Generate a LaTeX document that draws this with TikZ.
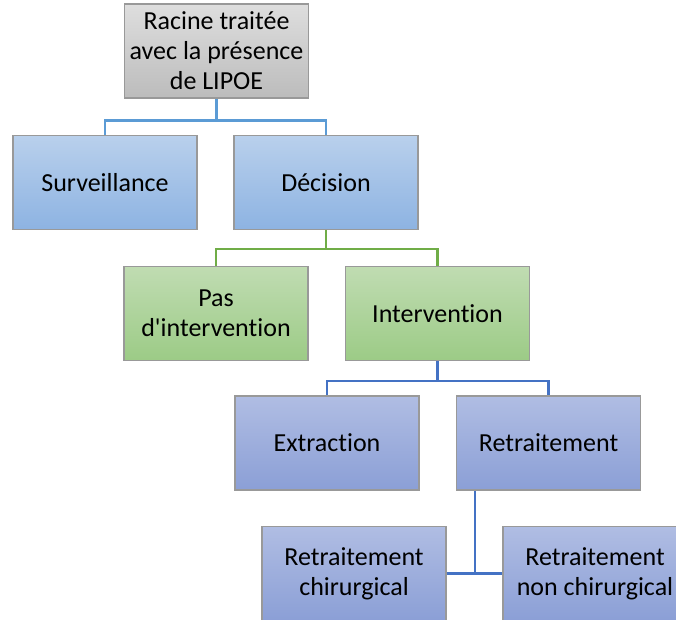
\documentclass[tikz,border=0pt]{standalone}
\usepackage{fontspec}
\setmainfont{Carlito}[Ligatures={TeXOff,CommonOff}]
\usepackage{tikz}

\definecolor{lineblue}{HTML}{5B9BD5}
\definecolor{linegreen}{HTML}{70AD47}
\definecolor{linedark}{HTML}{4472C4}

\tikzset{
  box/.style={draw=black!40,line width=1.2pt,minimum width=184pt,minimum height=94pt,
    align=center,inner sep=2pt,font=\fontsize{26}{30}\selectfont},
  graybox/.style={box,top color={rgb,255:red,222;green,222;blue,222},bottom color={rgb,255:red,188;green,188;blue,188}},
  bluebox/.style={box,top color={rgb,255:red,185;green,208;blue,236},bottom color={rgb,255:red,141;green,179;blue,226}},
  greenbox/.style={box,top color={rgb,255:red,192;green,220;blue,178},bottom color={rgb,255:red,156;green,203;blue,134}},
  purplebox/.style={box,top color={rgb,255:red,176;green,189;blue,227},bottom color={rgb,255:red,139;green,159;blue,214}},
  link/.style={line width=2.6pt}
}

\begin{document}
\begin{tikzpicture}[x=1pt,y=-1pt]
        \clip (0,0) rectangle (676,619);
        \fill[white] (0,0) rectangle (676,619);
        \node[graybox] (root) at (216.5,51) {Racine traitée\\avec la présence\\de LIPOE};
        \node[bluebox] (surv) at (105,182.5) {Surveillance};
        \node[bluebox] (dec) at (326,182.5) {Décision};
        \node[greenbox] (pas) at (216,313.5) {Pas\\d'intervention};
        \node[greenbox] (interv) at (437.5,313.5) {Intervention};
        \node[purplebox] (extr) at (327,443) {Extraction};
        \node[purplebox] (retr) at (548.5,443) {Retraitement};
        \node[purplebox] (chir) at (354,573.5) {Retraitement\\chirurgical};
        \node[purplebox] (nonchir) at (595,573.5) {Retraitement\\non chirurgical};
        \coordinate (bus) at (475,573.5);
        \draw[link,lineblue] (root.south) -- ++(0,22) -| (surv.north) (root.south) ++(0,22) -| (dec.north);
        \draw[link,linegreen] (dec.south) -- ++(0,19) -| (pas.north) (dec.south) ++(0,19) -| (interv.north);
        \draw[link,linedark] (interv.south) -- ++(0,20) -| (extr.north) (interv.south) ++(0,20) -| (retr.north);
        \draw[link,linedark] (retr.south -| bus) -- (bus) (chir.east) -- (nonchir.west);
      \end{tikzpicture}
\end{document}
